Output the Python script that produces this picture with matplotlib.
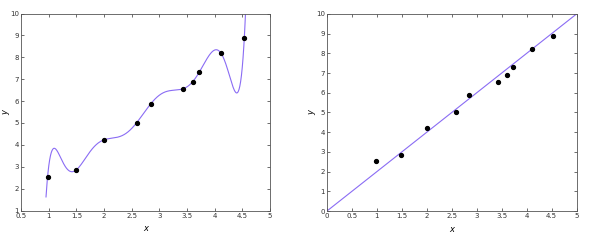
import numpy as np
import matplotlib.pyplot as plt

# data points
x_pts = [0.98, 1.49, 2.002, 2.588, 2.842, 3.434, 3.602, 3.724, 4.11, 4.536]
y_pts = [2.533, 2.838, 4.229, 5.003, 5.865, 6.567, 6.882, 7.33, 8.201, 8.899]
slope = 2.0  # straight-line model on the right
x_curve_range = (0.952, 4.556)

line_color = '#8a6cf4'

# degree-9 polynomial through all ten points (centred for stability)
xc = np.array(x_pts) - 2.75
coef = np.polyfit(xc, y_pts, len(x_pts) - 1)
xs = np.linspace(x_curve_range[0], x_curve_range[1], 500)
ys = np.polyval(coef, xs - 2.75)

fig = plt.figure(figsize=(6, 2.49), dpi=100)
ax1 = fig.add_axes([21 / 600, 1 - 210.5 / 249, 249 / 600, 197 / 249])
ax2 = fig.add_axes([327 / 600, 1 - 211 / 249, 249.5 / 600, 197 / 249])

ax1.plot(xs, ys, color=line_color, lw=0.8)
ax1.plot(x_pts, y_pts, 'o', color='black', ms=2.8)
ax1.set_xlim(0.5, 5)
ax1.set_ylim(1, 10)
ax1.set_xticks(np.arange(0.5, 5.01, 0.5))
ax1.set_xticklabels(['0.5', '1', '1.5', '2', '2.5', '3', '3.5', '4', '4.5', '5'])
ax1.set_yticks(range(1, 11))

xl = np.array([0, 5])
ax2.plot(xl, slope * xl, color=line_color, lw=0.8)
ax2.plot(x_pts, y_pts, 'o', color='black', ms=2.8)
ax2.set_xlim(0, 5)
ax2.set_ylim(0, 10)
ax2.set_xticks(np.arange(0, 5.01, 0.5))
ax2.set_xticklabels(['0', '0.5', '1', '1.5', '2', '2.5', '3', '3.5', '4', '4.5', '5'])
ax2.set_yticks(range(0, 11))

for ax in (ax1, ax2):
    ax.tick_params(direction='in', top=True, right=True, length=2.5, width=0.5,
                   labelsize=5, pad=1.5, colors='#333333')
    for s in ax.spines.values():
        s.set_linewidth(0.6)
        s.set_color('#555555')
    ax.set_xlabel('x', fontsize=6, style='italic')
    ax.set_ylabel('y', fontsize=6, style='italic')
    ax.xaxis.set_label_coords(0.5, -0.07)
    ax.yaxis.set_label_coords(-0.045, 0.5)

fig.savefig('out.png', dpi=100)
